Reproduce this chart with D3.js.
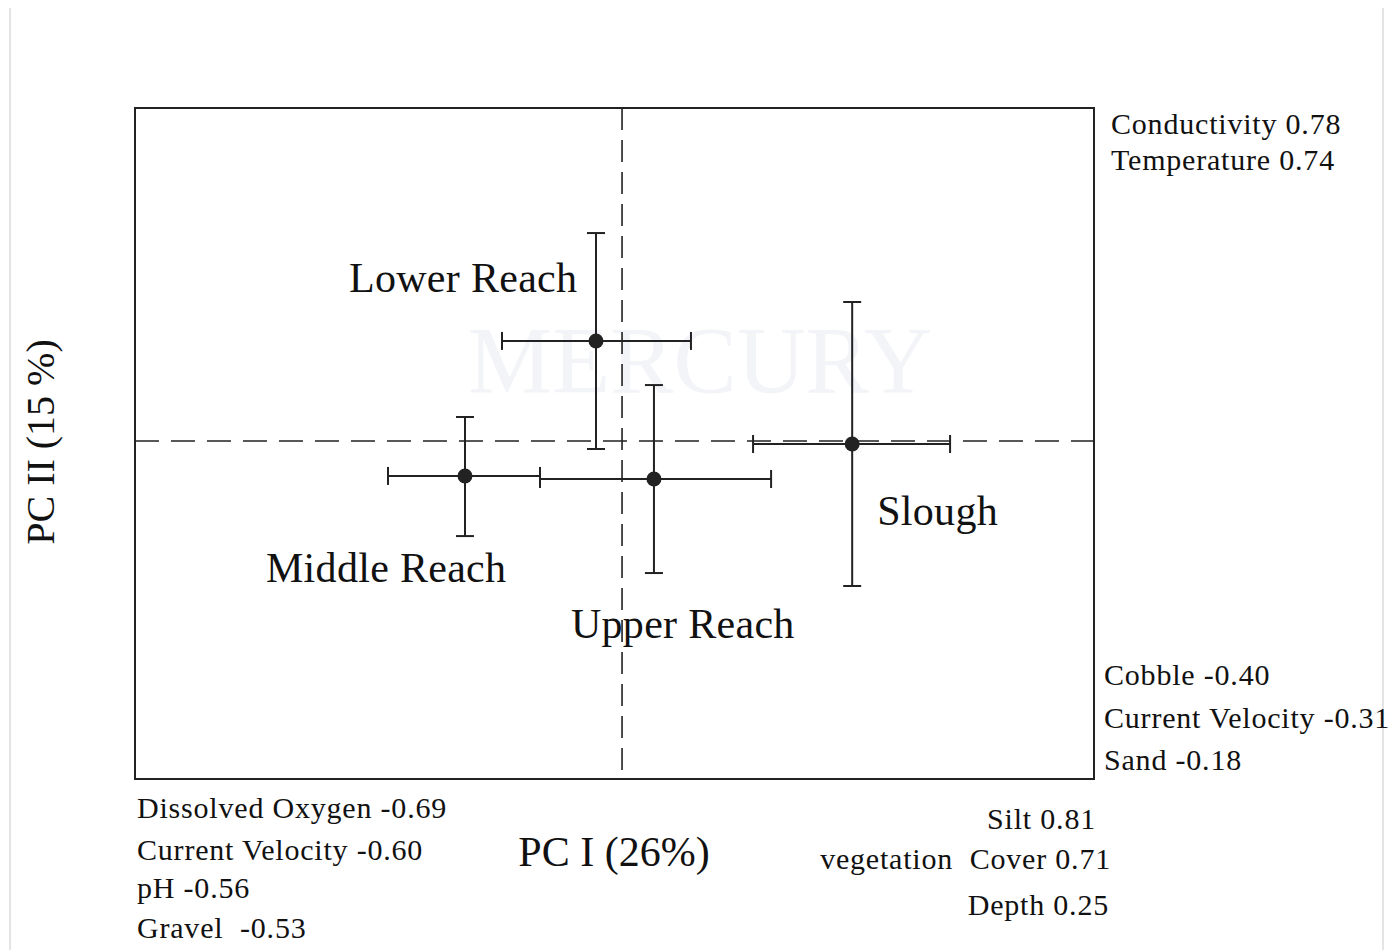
<!DOCTYPE html>
<html>
<head>
<meta charset="utf-8">
<script src="https://cdn.jsdelivr.net/npm/d3@7"></script>
<style>
  html, body { margin: 0; padding: 0; background: #fff; }
  svg { display: block; font-family: "Liberation Serif", "DejaVu Serif", serif; }
</style>
</head>
<body>
<svg id="chart" width="1392" height="950"></svg>
<script>
// ---- Data (PCA site scores, mean with error range) ----
const sites = ["Lower Reach", "Middle Reach", "Upper Reach", "Slough"];
const pc1Mean = [-0.107, -0.645, 0.131, 0.945];
const pc1Low  = [-0.493, -0.961, -0.337, 0.538];
const pc1High = [0.283, -0.337, 0.612, 1.347];
const pc2Mean = [0.601, -0.210, -0.228, -0.018];
const pc2Low  = [-0.048, -0.571, -0.793, -0.871];
const pc2High = [1.249, 0.144, 0.336, 0.835];

// Loadings annotations
const loadTopRight = ["Conductivity 0.78", "Temperature 0.74"];
const loadBottomRight = ["Cobble -0.40", "Current Velocity -0.31", "Sand -0.18"];
const loadBottomLeft = ["Dissolved Oxygen -0.69", "Current Velocity -0.60", "pH -0.56", "Gravel  -0.53"];
const loadBottomMid = ["Silt 0.81", "vegetation  Cover 0.71", "Depth 0.25"];

const xLabel = "PC I (26%)";
const yLabel = "PC II (15 %)";

// ---- Layout ----
const svg = d3.select("#chart");
const L = 135, R = 1094, T = 108, B = 779;
const x = d3.scaleLinear().domain([-2.0, 1.938]).range([L, R]);
const y = d3.scaleLinear().domain([-2.03, 2.0]).range([B, T]);

// page side borders
svg.append("line").attr("x1", 10).attr("x2", 10).attr("y1", 8).attr("y2", 950)
  .attr("stroke", "#e4e4e4").attr("stroke-width", 2);
svg.append("line").attr("x1", 1383).attr("x2", 1383).attr("y1", 8).attr("y2", 950)
  .attr("stroke", "#e4e4e4").attr("stroke-width", 2);

// faint watermark text
svg.append("text").attr("x", 700).attr("y", 393).attr("text-anchor", "middle")
  .attr("font-size", 95).attr("fill", "#f3f4f8").text("MERCURY");

// frame
svg.append("rect").attr("x", L).attr("y", T).attr("width", R - L).attr("height", B - T)
  .attr("fill", "none").attr("stroke", "#222").attr("stroke-width", 2);

// zero dashed lines
svg.append("line").attr("x1", L).attr("x2", R).attr("y1", y(0)).attr("y2", y(0))
  .attr("stroke", "#222").attr("stroke-width", 1.6).attr("stroke-dasharray", "24,12");
svg.append("line").attr("x1", x(0)).attr("x2", x(0)).attr("y1", T).attr("y2", B)
  .attr("stroke", "#222").attr("stroke-width", 1.6).attr("stroke-dasharray", "22,10");

// error bars
const cap = 9;
const g = svg.append("g").attr("stroke", "#222").attr("stroke-width", 2);
sites.forEach((s, i) => {
  const cx = x(pc1Mean[i]), cy = y(pc2Mean[i]);
  g.append("line").attr("x1", x(pc1Low[i])).attr("x2", x(pc1High[i])).attr("y1", cy).attr("y2", cy);
  g.append("line").attr("x1", x(pc1Low[i])).attr("x2", x(pc1Low[i])).attr("y1", cy - cap).attr("y2", cy + cap);
  g.append("line").attr("x1", x(pc1High[i])).attr("x2", x(pc1High[i])).attr("y1", cy - cap).attr("y2", cy + cap);
  g.append("line").attr("x1", cx).attr("x2", cx).attr("y1", y(pc2Low[i])).attr("y2", y(pc2High[i]));
  g.append("line").attr("x1", cx - cap).attr("x2", cx + cap).attr("y1", y(pc2Low[i])).attr("y2", y(pc2Low[i]));
  g.append("line").attr("x1", cx - cap).attr("x2", cx + cap).attr("y1", y(pc2High[i])).attr("y2", y(pc2High[i]));
});
svg.selectAll("circle.pt").data(sites).join("circle").attr("class", "pt")
  .attr("cx", (d, i) => x(pc1Mean[i])).attr("cy", (d, i) => y(pc2Mean[i]))
  .attr("r", 7.5).attr("fill", "#222");

// site labels (offsets relative to points)
const labelDx = [-247, -199, -83, 25];
const labelDy = [-49, 106, 159, 81];
svg.selectAll("text.site").data(sites).join("text").attr("class", "site")
  .attr("x", (d, i) => x(pc1Mean[i]) + labelDx[i])
  .attr("y", (d, i) => y(pc2Mean[i]) + labelDy[i])
  .attr("font-size", 42).attr("letter-spacing", 0.3).attr("fill", "#111").text(d => d);

// axis titles
svg.append("text").attr("x", 614).attr("y", 866).attr("text-anchor", "middle")
  .attr("font-size", 42).attr("fill", "#111").text(xLabel);
svg.append("text").attr("transform", "translate(54,442) rotate(-90)").attr("text-anchor", "middle")
  .attr("font-size", 40).attr("fill", "#111").text(yLabel);

// loadings text
const fs = 30;
function block(lines, xs, ys, anchor) {
  lines.forEach((t, i) => {
    svg.append("text").attr("x", Array.isArray(xs) ? xs[i] : xs).attr("y", ys[i]).attr("text-anchor", anchor)
      .attr("font-size", fs).attr("letter-spacing", 0.8).attr("fill", "#111")
      .style("white-space", "pre").text(t);
  });
}
block(loadTopRight, 1111, [134, 170], "start");
block(loadBottomRight, 1104, [685, 728, 770], "start");
block(loadBottomLeft, 137, [818, 860, 898, 938], "start");
block(loadBottomMid, [1096, 1111, 1109], [829, 869, 915], "end");
</script>
</body>
</html>
